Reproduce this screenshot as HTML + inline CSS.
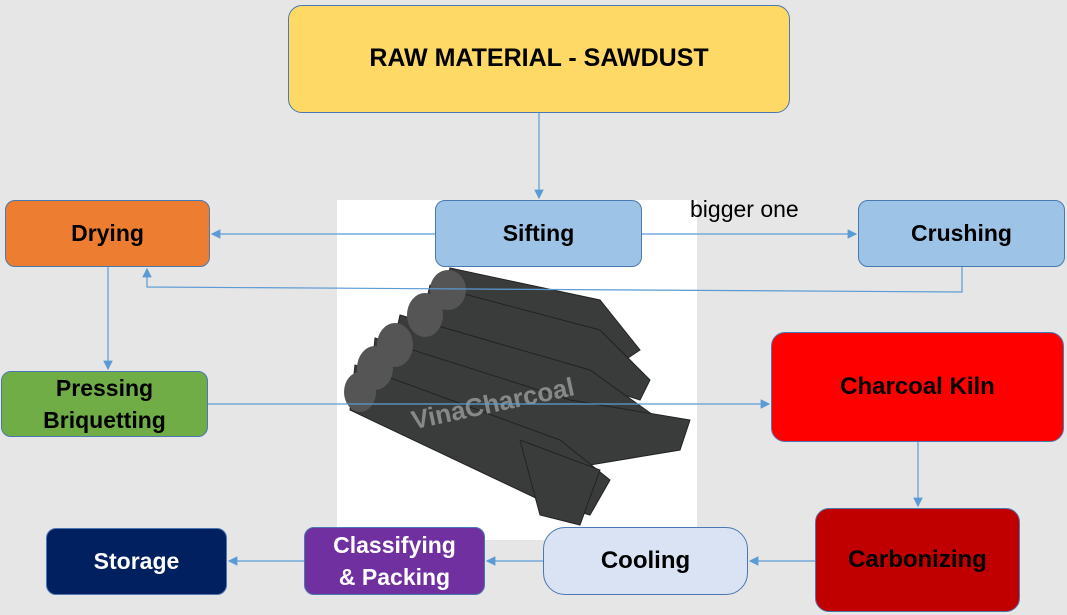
<!DOCTYPE html>
<html><head><meta charset="utf-8"><style>
body{margin:0;width:1067px;height:615px;background:#e7e6e6;position:relative;overflow:hidden;font-family:"Liberation Sans",sans-serif;}
.b{position:absolute;box-sizing:border-box;border:1.5px solid #4a78b0;border-radius:10px;display:flex;align-items:center;justify-content:center;text-align:center;font-weight:bold;font-size:23px;color:#000;line-height:1.5;}
</style></head><body>
<div style="position:absolute;left:337px;top:200px;width:360px;height:340px;background:#fff"></div>
<svg style="position:absolute;left:0;top:0" width="1067" height="615">
<defs><marker id="a" markerWidth="8" markerHeight="8" refX="7" refY="4" orient="auto"><path d="M0,0 L8,4 L0,8 z" fill="#5b9bd5"/></marker></defs>
<g fill="#3a3c3c" stroke="#222" stroke-width="1">
<polygon points="450,268 600,300 640,350 610,370 440,310"/>
<polygon points="430,285 600,330 650,380 640,400 420,330"/>
<polygon points="400,315 590,370 660,420 650,440 390,360"/>
<polygon points="375,338 570,400 690,420 680,450 560,470 370,390"/>
<polygon points="355,365 560,440 610,480 590,515 540,500 350,410"/>
<polygon points="520,440 600,470 580,525 540,515"/>
</g>
<g fill="#555"><ellipse cx="448" cy="290" rx="18" ry="20"/><ellipse cx="425" cy="315" rx="18" ry="22"/><ellipse cx="395" cy="345" rx="18" ry="22"/><ellipse cx="375" cy="368" rx="18" ry="22"/><ellipse cx="360" cy="392" rx="16" ry="20"/></g>
<text x="410" y="415" font-family="Liberation Sans" font-size="26" font-weight="bold" fill="#bbb" opacity="0.6" transform="rotate(-12 480 405)">VinaCharcoal</text>
<g stroke="#5b9bd5" stroke-width="1.2" fill="none" marker-end="url(#a)">
<line x1="539" y1="113" x2="539" y2="198"/>
<line x1="435" y1="234" x2="212" y2="234"/>
<line x1="642" y1="234" x2="856" y2="234"/>
<polyline points="962,267 962,292 147,287 147,269"/>
<line x1="108" y1="267" x2="108" y2="369"/>
<line x1="208" y1="404" x2="769" y2="404"/>
<line x1="918" y1="442" x2="918" y2="506"/>
<line x1="815" y1="561" x2="750" y2="561"/>
<line x1="543" y1="561" x2="487" y2="561"/>
<line x1="304" y1="561" x2="229" y2="561"/>
</g>
</svg>
<div class="b" style="left:288px;top:5px;width:502px;height:108px;background:#ffd966;border-radius:14px;font-size:25px">RAW MATERIAL - SAWDUST</div>
<div class="b" style="left:5px;top:200px;width:205px;height:67px;background:#ed7d31">Drying</div>
<div class="b" style="left:435px;top:200px;width:207px;height:67px;background:#9dc3e6">Sifting</div>
<div class="b" style="left:858px;top:200px;width:207px;height:67px;background:#9dc3e6">Crushing</div>
<div style="position:absolute;left:690px;top:196px;font-size:23px">bigger one</div>
<div class="b" style="left:1px;top:371px;width:207px;height:66px;background:#70ad47;line-height:1.4">Pressing<br>Briquetting</div>
<div class="b" style="left:771px;top:332px;width:293px;height:110px;background:#ff0000;border-radius:14px;font-size:24px">Charcoal Kiln</div>
<div class="b" style="left:815px;top:508px;width:205px;height:104px;background:#c00000;border-radius:14px;font-size:24px">Carbonizing</div>
<div class="b" style="left:543px;top:527px;width:205px;height:68px;background:#dae3f3;border-radius:22px;font-size:24px">Cooling</div>
<div class="b" style="left:304px;top:527px;width:181px;height:68px;background:#7030a0;color:#fff;line-height:1.4">Classifying<br>&amp; Packing</div>
<div class="b" style="left:46px;top:528px;width:181px;height:67px;background:#002060;color:#fff">Storage</div>
</body></html>
